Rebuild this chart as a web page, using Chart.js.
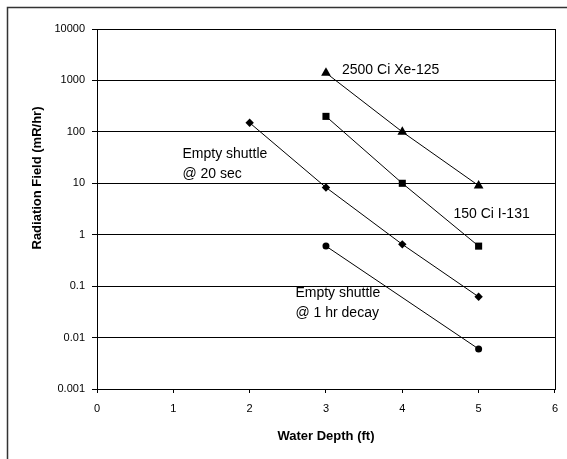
<!DOCTYPE html>
<html>
<head>
<meta charset="utf-8">
<script src="https://cdn.jsdelivr.net/npm/chart.js@4.4.1/dist/chart.umd.min.js"></script>
<style>
  html, body { margin: 0; padding: 0; background: #fff; }
  #grafico { display: block; }
</style>
</head>
<body>
<canvas id="grafico" width="567" height="459"></canvas>
<script>
// values
const xeDepth = [3, 4, 5];
const xeField = [1400, 100, 9];

const iodoDepth = [3, 4, 5];
const iodoField = [200, 10, 0.6];

const shuttle20Depth = [2, 3, 4, 5];
const shuttle20Field = [150, 8.3, 0.65, 0.062];

const shuttle1hDepth = [3, 5];
const shuttle1hField = [0.6, 0.006];

const xTicks = [0, 1, 2, 3, 4, 5, 6];
const yTicks = [0.001, 0.01, 0.1, 1, 10, 100, 1000, 10000];

// text labels inside the plot, placed in data units
const notas = [
    { linhas: ['2500 Ci Xe-125'], x: 3.21, y: 1550 },
    { linhas: ['150 Ci I-131'], x: 4.67, y: 2.5 },
    { linhas: ['Empty shuttle', '@ 20 sec'], x: 1.12, y: 37 },
    { linhas: ['Empty shuttle', '@ 1 hr decay'], x: 2.6, y: 0.074 }
];

const fonte = '"Liberation Sans", Arial, sans-serif';

function pontos(xs, ys) {
    return xs.map((x, i) => ({ x: x, y: ys[i] }));
}

function serie(label, xs, ys, estilo, raio) {
    return {
        label: label,
        data: pontos(xs, ys),
        showLine: true,
        borderColor: '#000',
        backgroundColor: '#000',
        borderWidth: 1,
        pointStyle: estilo,
        pointRadius: raio,
        pointBorderWidth: 0,
        pointBackgroundColor: '#000'
    };
}

const extras = {
    id: 'extras',
    afterDraw(chart) {
        const { ctx, chartArea: a, scales: { x, y } } = chart;
        ctx.save();

        // moldura da area do grafico
        ctx.strokeStyle = '#000';
        ctx.lineWidth = 1;
        ctx.strokeRect(Math.round(a.left) + 0.5, Math.round(a.top) + 0.5,
            Math.round(a.right - a.left), Math.round(a.bottom - a.top));

        // borda externa (cortada a direita e embaixo)
        ctx.strokeStyle = '#333';
        ctx.lineWidth = 1.5;
        ctx.beginPath();
        ctx.moveTo(7.5, 459);
        ctx.lineTo(7.5, 7.5);
        ctx.lineTo(567, 7.5);
        ctx.stroke();

        // notas
        ctx.fillStyle = '#000';
        ctx.font = '14px ' + fonte;
        ctx.textAlign = 'left';
        ctx.textBaseline = 'middle';
        notas.forEach(n => {
            const px = x.getPixelForValue(n.x);
            const py = y.getPixelForValue(n.y);
            n.linhas.forEach((t, i) => ctx.fillText(t, px, py + i * 20));
        });

        // titulos dos eixos
        ctx.font = 'bold 13px ' + fonte;
        ctx.textAlign = 'center';
        ctx.fillText('Water Depth (ft)', (a.left + a.right) / 2, 436);
        ctx.translate(37, 178);
        ctx.rotate(-Math.PI / 2);
        ctx.fillText('Radiation Field (mR/hr)', 0, 0);

        ctx.restore();
    }
};

new Chart(document.getElementById('grafico').getContext('2d'), {
    type: 'scatter',
    data: {
        datasets: [
            serie('2500 Ci Xe-125', xeDepth, xeField, 'triangle', 5.6),
            serie('150 Ci I-131', iodoDepth, iodoField, 'rect', 5),
            serie('Empty shuttle @ 20 sec', shuttle20Depth, shuttle20Field, 'rectRot', 4.2),
            serie('Empty shuttle @ 1 hr decay', shuttle1hDepth, shuttle1hField, 'circle', 3.5)
        ]
    },
    options: {
        responsive: false,
        animation: false,
        devicePixelRatio: 1,
        layout: { padding: { top: 29, right: 8, left: 0, bottom: 0 } },
        plugins: {
            legend: { display: false },
            tooltip: { enabled: false }
        },
        scales: {
            x: {
                type: 'linear',
                min: 0,
                max: 6,
                afterBuildTicks: s => { s.ticks = xTicks.map(v => ({ value: v })); },
                afterFit: s => { s.height = 70; },
                grid: { drawOnChartArea: false, color: '#000', tickLength: 4 },
                border: { color: '#000', width: 1 },
                ticks: {
                    color: '#000',
                    padding: 9,
                    maxRotation: 0,
                    font: { family: fonte, size: 11 }
                }
            },
            y: {
                type: 'logarithmic',
                min: 0.001,
                max: 10000,
                afterBuildTicks: s => { s.ticks = yTicks.map(v => ({ value: v })); },
                afterFit: s => { s.width = 97; },
                grid: { color: '#000', tickLength: 5 },
                border: { color: '#000', width: 1 },
                ticks: {
                    color: '#000',
                    padding: 7,
                    font: { family: fonte, size: 11 },
                    callback: v => String(v)
                }
            }
        }
    },
    plugins: [extras]
});
</script>
</body>
</html>
